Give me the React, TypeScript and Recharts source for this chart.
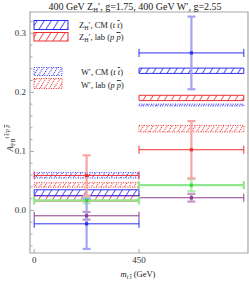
import React from 'react';
import { ComposedChart, Scatter, ErrorBar, XAxis, YAxis, ReferenceArea } from 'recharts';

const SERIF = '"Liberation Serif", "DejaVu Serif", serif';
const FRAME = '#a8a8a8';
const BLUE = '#2f2ff2';
const RED = '#f03030';
const GREEN = '#36d836';
const PURPLE = '#8e3c8e';

// m_tt bins (GeV)
const binEdges = [0, 450, 900];
const binCenters = [225, 675];
const binHalfWidths = [225, 225];

// model bands per bin, [low, high]
const zhCmBand = [[0.025, 0.035], [0.232, 0.241]];
const zhLabBand = [[0.016, 0.025], [0.186, 0.195]];
const wCmBand = [[0.055, 0.064], [0.177, 0.18]];
const wLabBand = [[0.0395, 0.047], [0.133, 0.144]];

// measured / reference points per bin
const blueValues = [-0.0226, 0.2667];
const blueErrors = [0.0425, 0.0615];
const redValues = [0.0593, 0.1028];
const redErrors = [0.034, 0.0485];
const greenValues = [0.017, 0.0429];
const greenErrors = [0.005, 0.0105];
const purpleValues = [-0.009, 0.0215];
const purpleErrors = [0.0065, 0.0065];

const xDomain = [-18, 918];
const yDomain = [-0.072, 0.336];
const xTicks = [0, 450];
const yMajorTicks = [0, 0.1, 0.2, 0.3];
const yMinorTicks = [-0.06, -0.04, -0.02, 0.02, 0.04, 0.06, 0.08, 0.12, 0.14, 0.16, 0.18, 0.22, 0.24, 0.26, 0.28, 0.32];

const points = (values: number[], errors: number[]) =>
  binCenters.map((x, i) => ({ x, y: values[i], ex: binHalfWidths[i], ey: errors[i] }));

const YTick = (props: any) => {
  const { x, y, payload } = props;
  const major = yMajorTicks.includes(payload.value);
  return (
    <g>
      <line x1={x} x2={x + (major ? 4 : 2.5)} y1={y} y2={y} stroke={FRAME} />
      {major && (
        <text x={x - 4} y={y + 3} textAnchor="end" fontSize={9} fontFamily={SERIF} fill="#333">
          {payload.value.toFixed(1)}
        </text>
      )}
    </g>
  );
};

const XTick = (props: any) => {
  const { x, y, payload } = props;
  return (
    <g>
      <line x1={x} x2={x} y1={y} y2={y - 4} stroke={FRAME} />
      <text x={x} y={y + 10} textAnchor="middle" fontSize={9} fontFamily={SERIF} fill="#333">
        {payload.value}
      </text>
    </g>
  );
};

const Square = (color: string) => (props: any) => (
  <rect x={props.cx - 1.6} y={props.cy - 1.6} width={3.2} height={3.2} fill={color} />
);

function bands(list: number[][], fill: string, stroke: string, dotted: boolean, key: string) {
  return list.map((b, i) => (
    <ReferenceArea
      key={key + i}
      x1={binEdges[i]}
      x2={binEdges[i + 1]}
      y1={b[0]}
      y2={b[1]}
      fill={fill}
      fillOpacity={1}
      stroke={stroke}
      strokeWidth={1}
      strokeDasharray={dotted ? '1 1.4' : undefined}
      ifOverflow="visible"
    />
  ));
}

function hatch(id: string, color: string, dotted: boolean) {
  const step = dotted ? 4 : 6;
  return (
    <pattern id={id} width={step} height={step} patternUnits="userSpaceOnUse" patternTransform="rotate(32)">
      <line
        x1={0.5}
        y1={0}
        x2={0.5}
        y2={step}
        stroke={color}
        strokeWidth={dotted ? 1.1 : 0.8}
        strokeDasharray={dotted ? '1 1' : undefined}
      />
    </pattern>
  );
}

function series(values: number[], errors: number[], color: string, pale: string, hWidth: number, hColor: string) {
  return (
    <Scatter data={points(values, errors)} dataKey="y" shape={Square(color)} isAnimationActive={false}>
      <ErrorBar dataKey="ey" direction="y" width={4} stroke={pale} strokeWidth={2.2} isAnimationActive={false} />
      <ErrorBar dataKey="ex" direction="x" width={4} stroke={hColor} strokeWidth={hWidth} isAnimationActive={false} />
    </Scatter>
  );
}

const tbar = { textDecoration: 'overline' } as React.CSSProperties;

export default function App() {
  return (
    <div style={{ position: 'absolute', left: 0, top: 0, width: 249, height: 281, background: '#fff' }}>
      <ComposedChart width={249} height={281} margin={{ top: 12, right: 1, bottom: 0, left: 0 }}>
        <XAxis
          dataKey="x"
          type="number"
          domain={xDomain}
          ticks={xTicks}
          interval={0}
          allowDataOverflow
          height={28}
          tickSize={0}
          tickMargin={0}
          tickLine={false}
          axisLine={false}
          tick={<XTick />}
        />
        <YAxis
          type="number"
          domain={yDomain}
          ticks={[...yMajorTicks, ...yMinorTicks]}
          interval={0}
          allowDataOverflow
          width={30}
          tickSize={0}
          tickMargin={0}
          tickLine={false}
          axisLine={false}
          tick={<YTick />}
        />
        {bands(wLabBand, 'url(#dotRed)', RED, true, 'wl')}
        {bands(wCmBand, 'url(#dotBlue)', BLUE, true, 'wc')}
        {bands(zhLabBand, 'url(#hatchRed)', RED, false, 'zl')}
        {bands(zhCmBand, 'url(#hatchBlue)', BLUE, false, 'zc')}
        {series(purpleValues, purpleErrors, PURPLE, '#c49ac4', 1, PURPLE)}
        {series(greenValues, greenErrors, GREEN, '#a6f0a6', 2.2, '#8fe88f')}
        {series(redValues, redErrors, RED, '#f7a4a4', 1, RED)}
        {series(blueValues, blueErrors, BLUE, '#a4a4f7', 1, BLUE)}
        <ReferenceArea
          x1={xDomain[0]}
          x2={xDomain[1]}
          y1={yDomain[0]}
          y2={yDomain[1]}
          fill="none"
          stroke={FRAME}
          strokeWidth={1.2}
          ifOverflow="visible"
        />
      </ComposedChart>
      <svg width={249} height={281} style={{ position: 'absolute', left: 0, top: 0, pointerEvents: 'none' }} fontFamily={SERIF} fill="#222">
        <defs>
          {hatch('hatchBlue', BLUE, false)}
          {hatch('hatchRed', RED, false)}
          {hatch('dotBlue', BLUE, true)}
          {hatch('dotRed', RED, true)}
        </defs>
        <text x={135} y={10} textAnchor="middle" fontSize={10}>
          400 GeV Z<tspan dy={2} fontSize={6.5}>H</tspan>
          <tspan dy={-2}>′, g=1.75, 400 GeV W′, g=2.55</tspan>
        </text>

        <rect x={34} y={20.5} width={34} height={9} fill="url(#hatchBlue)" stroke={BLUE} />
        <rect x={34} y={32.5} width={34} height={8.5} fill="url(#hatchRed)" stroke={RED} />
        <rect x={34} y={67.5} width={28} height={8} fill="url(#dotBlue)" stroke={BLUE} strokeDasharray="1 1.4" />
        <rect x={34} y={78.5} width={28} height={10} fill="url(#dotRed)" stroke={RED} strokeDasharray="1 1.4" />

        <text x={79} y={28} fontSize={8.5}>
          Z<tspan dy={2} fontSize={6}>H</tspan>
          <tspan dy={-2}>′, CM (</tspan>
          <tspan fontStyle="italic">t </tspan>
          <tspan fontStyle="italic" style={tbar}>t</tspan>)
        </text>
        <text x={79} y={40} fontSize={8.5}>
          Z<tspan dy={2} fontSize={6}>H</tspan>
          <tspan dy={-2}>′, lab (</tspan>
          <tspan fontStyle="italic">p </tspan>
          <tspan fontStyle="italic" style={tbar}>p</tspan>)
        </text>
        <text x={81} y={75} fontSize={8.5}>
          W′, CM (<tspan fontStyle="italic">t </tspan>
          <tspan fontStyle="italic" style={tbar}>t</tspan>)
        </text>
        <text x={81} y={88} fontSize={8.5}>
          W′, lab (<tspan fontStyle="italic">p </tspan>
          <tspan fontStyle="italic" style={tbar}>p</tspan>)
        </text>

        <text transform="translate(13,138) rotate(-90)" textAnchor="middle" fontSize={9}>
          <tspan fontStyle="italic">A</tspan>
          <tspan dy={2} fontSize={6}>FB</tspan>
          <tspan dy={-6} fontSize={6} fontStyle="italic">t </tspan>
          <tspan fontSize={6} fontStyle="italic" style={tbar}>t</tspan>
          <tspan fontSize={6} fontStyle="italic">/p </tspan>
          <tspan fontSize={6} fontStyle="italic" style={tbar}>p</tspan>
        </text>

        <text x={138} y={277} textAnchor="middle" fontSize={8.5}>
          <tspan fontStyle="italic">m</tspan>
          <tspan dy={2} fontSize={6} fontStyle="italic">t </tspan>
          <tspan fontSize={6} fontStyle="italic" style={tbar}>t</tspan>
          <tspan dy={-2}> (GeV)</tspan>
        </text>
      </svg>
    </div>
  );
}
